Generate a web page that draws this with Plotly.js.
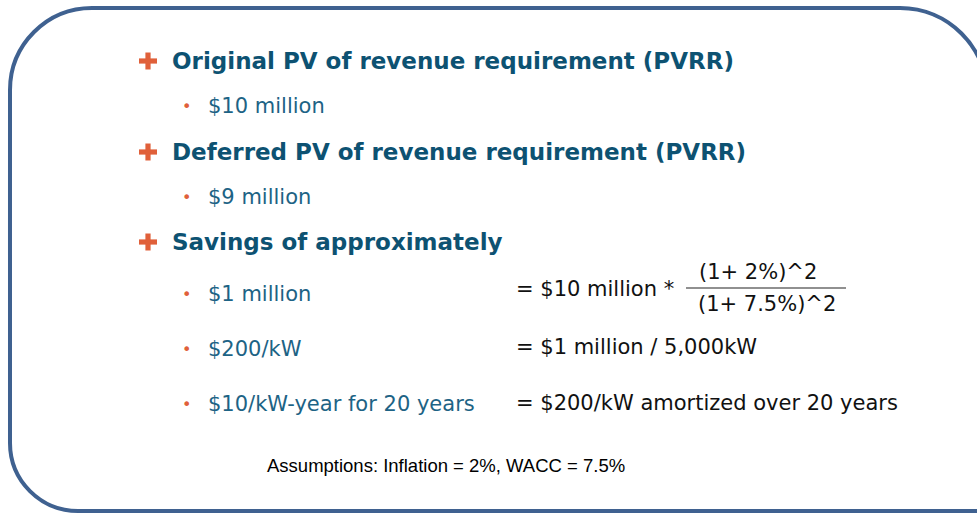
<!DOCTYPE html>
<html>
<head>
<meta charset="utf-8">
<script src="https://cdn.plot.ly/plotly-3.0.1.min.js"></script>
<style>html,body{margin:0;padding:0;background:#fff;}#chart{width:977px;height:513px;}</style>
</head>
<body>
<div id="chart"></div>
<script>
// ---- content ----
const headings = [
  "Original PV of revenue requirement (PVRR)",
  "Deferred PV of revenue requirement (PVRR)",
  "Savings of approximately"
];
const bullets = [
  "$10 million",
  "$9 million",
  "$1 million",
  "$200/kW",
  "$10/kW-year for 20 years"
];
const formulas = [
  "= $10 million *",
  "= $1 million / 5,000kW",
  "= $200/kW amortized over 20 years"
];
const fractionNumerator = "(1+ 2%)^2";
const fractionDenominator = "(1+ 7.5%)^2";
const assumptions = "Assumptions: Inflation = 2%, WACC = 7.5%";

// ---- layout positions (pixels) ----
const headingY = [61, 152, 242];
const bulletY = [106, 197, 294, 349, 404];
const formulaY = [289, 347, 403];
const headX = 170, plusX = 148, bulletDotX = 186, bulletTextX = 206, formulaX = 514;

const headColor = "#0D5272";
const subColor = "#1D6385";
const accent = "#E0603A";
const sans = "DejaVu Sans, Verdana, sans-serif";

const annotations = [];
const shapes = [];

headings.forEach((h, i) => {
  annotations.push({x: headX, y: headingY[i], text: "<b>" + h + "</b>", showarrow: false,
    xanchor: "left", yanchor: "middle", font: {family: sans, size: 23, color: headColor}});
  const cy = headingY[i];
  shapes.push({type: "rect", x0: plusX - 9, x1: plusX + 9, y0: cy - 2.6, y1: cy + 2.6,
    fillcolor: accent, line: {width: 0}});
  shapes.push({type: "rect", x0: plusX - 2.6, x1: plusX + 2.6, y0: cy - 8.5, y1: cy + 8.5,
    fillcolor: accent, line: {width: 0}});
});

bullets.forEach((b, i) => {
  annotations.push({x: bulletDotX, y: bulletY[i], text: "•", showarrow: false,
    xanchor: "center", yanchor: "middle", font: {family: sans, size: 16, color: accent}});
  annotations.push({x: bulletTextX, y: bulletY[i], text: b, showarrow: false,
    xanchor: "left", yanchor: "middle", font: {family: sans, size: 21, color: subColor}});
});

formulas.forEach((f, i) => {
  annotations.push({x: formulaX, y: formulaY[i], text: f, showarrow: false,
    xanchor: "left", yanchor: "middle", font: {family: sans, size: 21, color: "#111"}});
});

annotations.push({x: 758, y: 272, text: fractionNumerator, showarrow: false,
  xanchor: "center", yanchor: "middle", font: {family: sans, size: 21, color: "#111"}});
annotations.push({x: 767, y: 304, text: fractionDenominator, showarrow: false,
  xanchor: "center", yanchor: "middle", font: {family: sans, size: 21, color: "#111"}});
shapes.push({type: "line", x0: 686, x1: 846, y0: 288, y1: 288, line: {color: "#222", width: 1.2}});

annotations.push({x: 265, y: 465, text: assumptions, showarrow: false,
  xanchor: "left", yanchor: "middle",
  font: {family: "Liberation Sans, Arial, sans-serif", size: 18.5, color: "#000"}});

// rounded frame
const L = 10, T = 8, R = 987, B = 511, rTL = 82, rTR = 87, rBL = 68, k = 0.5523;
const framePath =
  `M ${L + rTL} ${T} L ${R - rTR} ${T} ` +
  `C ${R - rTR + rTR * k} ${T} ${R} ${T + rTR - rTR * k} ${R} ${T + rTR} ` +
  `L ${R} ${B} L ${L + rBL} ${B} ` +
  `C ${L + rBL - rBL * k} ${B} ${L} ${B - rBL + rBL * k} ${L} ${B - rBL} ` +
  `L ${L} ${T + rTL} ` +
  `C ${L} ${T + rTL - rTL * k} ${L + rTL - rTL * k} ${T} ${L + rTL} ${T} Z`;
shapes.unshift({type: "path", path: framePath, line: {color: "#3F6190", width: 4}, fillcolor: "rgba(0,0,0,0)"});

const layout = {
  width: 977, height: 513,
  margin: {l: 0, r: 0, t: 0, b: 0},
  paper_bgcolor: "#fff", plot_bgcolor: "#fff",
  xaxis: {range: [0, 977], visible: false, fixedrange: true},
  yaxis: {range: [513, 0], visible: false, fixedrange: true},
  showlegend: false,
  annotations: annotations,
  shapes: shapes
};
Plotly.newPlot("chart", [], layout, {displayModeBar: false, staticPlot: true});
</script>
</body>
</html>
